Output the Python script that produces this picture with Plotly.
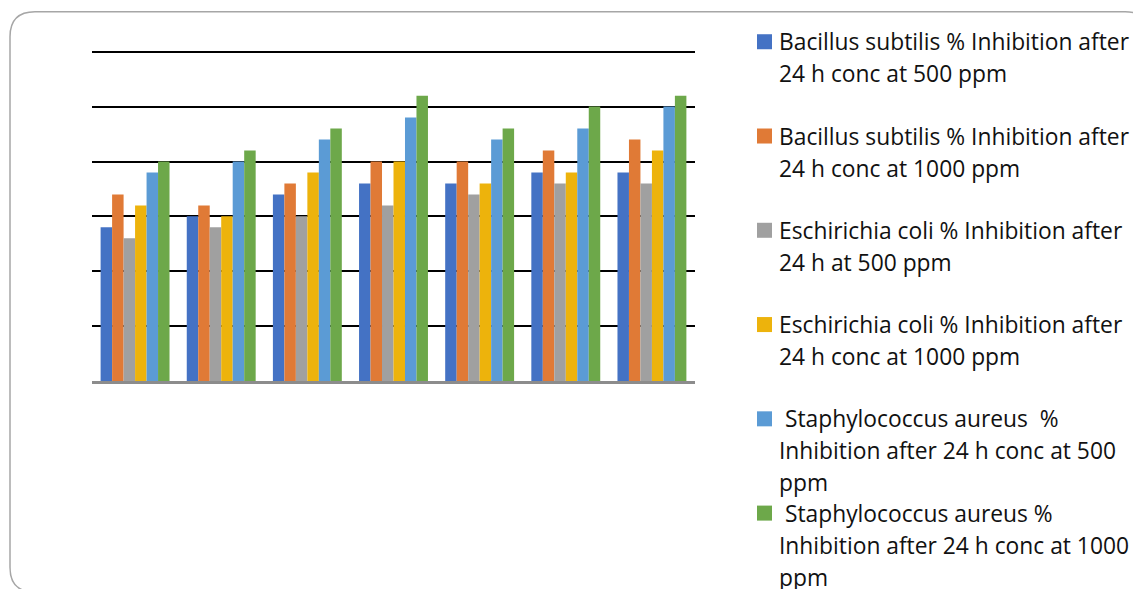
import plotly.graph_objects as go

# ---- data ----
categories = ["1", "2", "3", "4", "5", "6", "7"]
bs_500 = [28, 30, 34, 36, 36, 38, 38]
bs_1000 = [34, 32, 36, 40, 40, 42, 44]
ec_500 = [26, 28, 30, 32, 34, 36, 36]
ec_1000 = [32, 30, 38, 40, 36, 38, 42]
sa_500 = [38, 40, 44, 48, 44, 46, 50]
sa_1000 = [40, 42, 46, 52, 46, 50, 52]

series_values = [bs_500, bs_1000, ec_500, ec_1000, sa_500, sa_1000]
series_lines = [
    ["Bacillus subtilis % Inhibition after", "24 h conc at 500 ppm"],
    ["Bacillus subtilis % Inhibition after", "24 h conc at 1000 ppm"],
    ["Eschirichia coli % Inhibition after", "24 h at 500 ppm"],
    ["Eschirichia coli % Inhibition after", "24 h conc at 1000 ppm"],
    ["\u00a0Staphylococcus aureus \u00a0%", "Inhibition after 24 h conc at 500", "ppm"],
    ["\u00a0Staphylococcus aureus %", "Inhibition after 24 h conc at 1000", "ppm"],
]
series_names = [" ".join(l).strip() for l in series_lines]
colors = ["#4472C4", "#E07A36", "#A0A0A0", "#EDB30C", "#5B9BD5", "#6DA84A"]

# ---- layout geometry (screen pixels; page body has an 8px margin) ----
W, H, OFF = 1141, 589, 8
Y_MAX = 60.5
PL, PR, PB = 92, 695, 381
PT = 52 - (Y_MAX - 60) * (PB - 52) / 60.0


def px_x(px):
    return (px - PL) / (PR - PL)


def px_y(py):
    return (PB - py) / (PB - PT)


fig = go.Figure()
for name, vals, col in zip(series_names, series_values, colors):
    fig.add_trace(go.Bar(x=categories, y=vals, name=name, marker_color=col,
                         marker_line_width=0, showlegend=False))

shapes = []
annotations = []
FONT = "Open Sans"
FS = 22.8
legend_top = 42.0
item_step = 94.2
line_step = 32.0
for i, (lines, col) in enumerate(zip(series_lines, colors)):
    y0 = legend_top + i * item_step
    shapes.append(dict(type="rect", xref="paper", yref="paper",
                       x0=px_x(757), x1=px_x(772), y0=px_y(y0 - 7.5), y1=px_y(y0 + 7.5),
                       fillcolor=col, line_width=0))
    for j, t in enumerate(lines):
        annotations.append(dict(text=t, xref="paper", yref="paper",
                                x=px_x(777), y=px_y(y0 + j * line_step),
                                xanchor="left", yanchor="middle", showarrow=False,
                                font=dict(family=FONT, size=FS, color="#111111")))

# rounded outer border
L, T, R, B, rad = 10, 12, 1150, 592, 25
path = (f"M {px_x(L)},{px_y(T + rad)} "
        f"Q {px_x(L)},{px_y(T)} {px_x(L + rad)},{px_y(T)} "
        f"L {px_x(R - rad)},{px_y(T)} "
        f"Q {px_x(R)},{px_y(T)} {px_x(R)},{px_y(T + rad)} "
        f"L {px_x(R)},{px_y(B - rad)} "
        f"Q {px_x(R)},{px_y(B)} {px_x(R - rad)},{px_y(B)} "
        f"L {px_x(L + rad)},{px_y(B)} "
        f"Q {px_x(L)},{px_y(B)} {px_x(L)},{px_y(B - rad)} Z")
shapes.append(dict(type="path", xref="paper", yref="paper", path=path,
                   line=dict(color="#A6A6A6", width=1.5), fillcolor="rgba(0,0,0,0)"))

fig.update_layout(
    width=W - OFF, height=H - OFF,
    margin=dict(l=PL - OFF, r=W - PR, t=PT - OFF, b=H - PB, pad=0),
    paper_bgcolor="white", plot_bgcolor="white",
    barmode="group", bargap=0.2, bargroupgap=0,
    shapes=shapes, annotations=annotations,
    showlegend=False,
    xaxis=dict(showticklabels=False, ticks="", showgrid=False, zeroline=False,
               showline=True, linecolor="#8C8C8C", linewidth=3),
    yaxis=dict(range=[0, Y_MAX], dtick=10, showticklabels=False, ticks="",
               showgrid=True, gridcolor="black", gridwidth=2, zeroline=False,
               showline=False),
)

fig.write_html("out.html")
